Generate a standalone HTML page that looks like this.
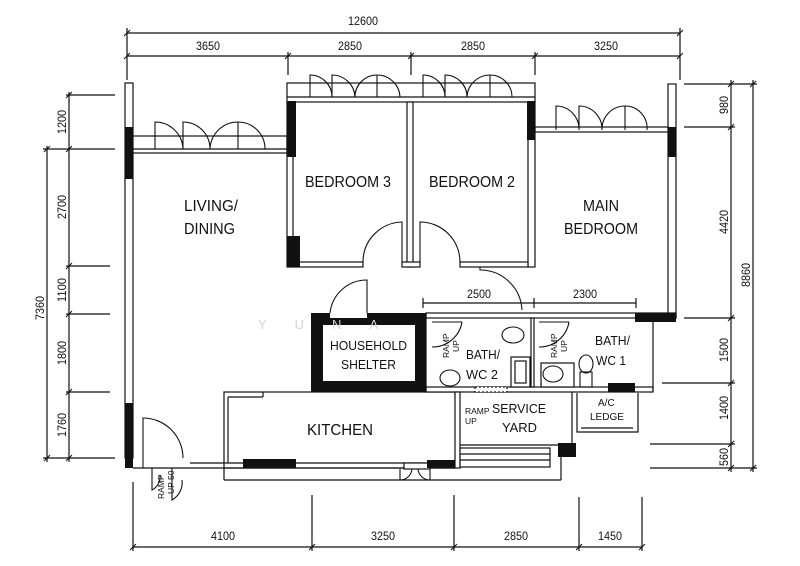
<!DOCTYPE html>
<html><head><meta charset="utf-8"><style>
html,body{margin:0;padding:0;background:#fff;}
svg{display:block;}
text{font-family:"Liberation Sans",sans-serif;fill:#111;}
</style></head><body>
<svg width="800" height="566" viewBox="0 0 800 566" xmlns="http://www.w3.org/2000/svg">
<g stroke="#111" stroke-width="1.2" fill="none">
<line x1="127" y1="33" x2="680" y2="33"/>
<line x1="127" y1="56" x2="680" y2="56"/>
<line x1="127" y1="28" x2="127" y2="80"/>
<line x1="680" y1="28" x2="680" y2="80"/>
<line x1="288" y1="52" x2="288" y2="75"/>
<line x1="411" y1="52" x2="411" y2="75"/>
<line x1="535" y1="52" x2="535" y2="75"/>
<line x1="69" y1="92" x2="69" y2="462"/>
<line x1="47" y1="146" x2="47" y2="462"/>
<line x1="66" y1="95" x2="115" y2="95"/>
<line x1="43" y1="149" x2="115" y2="149"/>
<line x1="66" y1="266" x2="110" y2="266"/>
<line x1="66" y1="314" x2="110" y2="314"/>
<line x1="66" y1="392" x2="110" y2="392"/>
<line x1="43" y1="458" x2="115" y2="458"/>
<line x1="731" y1="80" x2="731" y2="472"/>
<line x1="753" y1="80" x2="753" y2="472"/>
<line x1="684" y1="84" x2="757" y2="84"/>
<line x1="684" y1="127" x2="735" y2="127"/>
<line x1="684" y1="318" x2="735" y2="318"/>
<line x1="662" y1="383" x2="735" y2="383"/>
<line x1="650" y1="444" x2="735" y2="444"/>
<line x1="650" y1="468" x2="757" y2="468"/>
<line x1="133" y1="547" x2="642" y2="547"/>
<line x1="133" y1="482" x2="133" y2="551"/>
<line x1="312" y1="495" x2="312" y2="551"/>
<line x1="454" y1="495" x2="454" y2="551"/>
<line x1="579" y1="497" x2="579" y2="551"/>
<line x1="642" y1="497" x2="642" y2="551"/>
<line x1="423" y1="303" x2="636" y2="303"/>
<line x1="423" y1="298" x2="423" y2="308"/><line x1="534" y1="298" x2="534" y2="308"/><line x1="636" y1="298" x2="636" y2="308"/>
</g>
<g stroke="#111" stroke-width="1">
<path d="M124 36 L130 30 M677 36 L683 30 M124 59 L130 53 M285 59 L291 53 M408 59 L414 53 M532 59 L538 53 M677 59 L683 53"/>
<path d="M66 98 L72 92 M66 152 L72 146 M66 269 L72 263 M66 317 L72 311 M66 395 L72 389 M66 461 L72 455 M44 152 L50 146 M44 461 L50 455"/>
<path d="M728 87 L734 81 M728 130 L734 124 M728 321 L734 315 M728 386 L734 380 M728 447 L734 441 M728 471 L734 465 M750 87 L756 81 M750 471 L756 465"/>
<path d="M130 550 L136 544 M309 550 L315 544 M451 550 L457 544 M576 550 L582 544 M639 550 L645 544"/>
</g>
<g stroke="#111" stroke-width="1.2" fill="#fff">
<rect x="125" y="83" width="8" height="375"/>
<rect x="668" y="84" width="8" height="234"/>
<rect x="287" y="83" width="248" height="19"/>
<line x1="287" y1="97" x2="535" y2="97"/>
<rect x="133" y="136" width="154" height="17"/>
<line x1="133" y1="149" x2="287" y2="149"/>
<rect x="535" y="127" width="133" height="5"/>
<rect x="287" y="102" width="6" height="165"/>
<rect x="407" y="102" width="6" height="165"/>
<rect x="528" y="102" width="7" height="165"/>
<rect x="293" y="262" width="70" height="5"/>
<rect x="402" y="262" width="18" height="5"/>
<rect x="460" y="262" width="68" height="5"/>
<rect x="224" y="392" width="231" height="76"/>
<rect x="228" y="397" width="227" height="62" stroke="none"/>
<line x1="228" y1="397" x2="263" y2="397"/><line x1="263" y1="392" x2="263" y2="397"/><line x1="228" y1="397" x2="228" y2="463"/>
<line x1="190" y1="463" x2="455" y2="463"/>
<line x1="133" y1="468" x2="455" y2="468"/>
<line x1="224" y1="468" x2="224" y2="480"/>
<line x1="224" y1="480" x2="561" y2="480"/>
<line x1="561" y1="455" x2="561" y2="480"/>
<rect x="426" y="313" width="250" height="5"/>
<rect x="426" y="387" width="227" height="5"/>
<line x1="426" y1="313" x2="426" y2="392"/>
<rect x="531" y="318" width="3" height="69"/>
<line x1="653" y1="322" x2="653" y2="392"/>
<rect x="455" y="392" width="5" height="76"/>
<line x1="460" y1="445" x2="572" y2="445"/>
<line x1="572" y1="392" x2="572" y2="445"/>
<path d="M577 393 V432 H638 V393"/>
<line x1="581" y1="428" x2="633" y2="428"/>
<rect x="460" y="448" width="90" height="19"/>
<line x1="460" y1="454" x2="550" y2="454"/><line x1="460" y1="460" x2="550" y2="460"/>
<rect x="511" y="357" width="19" height="30"/>
<rect x="515" y="361" width="11" height="22"/>
<rect x="541" y="363" width="33" height="24"/>
<rect x="404" y="463" width="26" height="6"/>
<rect x="475" y="387" width="32" height="5" stroke-dasharray="2 2"/>
</g>
<g fill="#111">
<rect x="125" y="127" width="8" height="52"/>
<rect x="125" y="403" width="8" height="65"/>
<rect x="287" y="101" width="9" height="56"/>
<rect x="287" y="236" width="13" height="31"/>
<rect x="527" y="101" width="8" height="39"/>
<rect x="668" y="127" width="8" height="30"/>
<path d="M311 313 H330 V318 H367 V313 H426 V392 H311 Z M323 325 V381 H415 V325 Z" fill-rule="evenodd"/>
<rect x="635" y="313" width="41" height="9"/>
<rect x="608" y="383" width="27" height="9"/>
<rect x="243" y="459" width="53" height="9"/>
<rect x="427" y="460" width="28" height="8"/>
<rect x="558" y="443" width="18" height="14"/>
</g>
<g stroke="#111" stroke-width="1.1" fill="none">
<path d="M155 149 V122 A28 28 0 0 1 183 149 M183 149 V122 A27 27 0 0 1 210 149 M238 149 V122 A28 28 0 0 0 210 149 M238 149 V122 A27 27 0 0 1 265 149"/>
<path d="M310 97 V75 A22 22 0 0 1 332 97 M332 97 V75 A23 23 0 0 1 355 97 M377 97 V75 A22 22 0 0 0 355 97 M377 97 V75 A23 23 0 0 1 400 97"/>
<path d="M423 97 V75 A22 22 0 0 1 445 97 M445 97 V75 A22 22 0 0 1 467 97 M490 97 V75 A23 23 0 0 0 467 97 M490 97 V75 A22 22 0 0 1 512 97"/>
<path d="M556 130 V106 A23 23 0 0 1 579 130 M579 130 V106 A23 23 0 0 1 602 130 M625 130 V106 A23 23 0 0 0 602 130 M625 130 V106 A22 22 0 0 1 647 130"/>
<path d="M402 262 V222 A40 40 0 0 0 363 262"/>
<path d="M420 262 V222 A40 40 0 0 1 460 262"/>
<path d="M480 267 V270 A42 42 0 0 1 522 310"/>
<path d="M367 313 V280 A37 37 0 0 0 330 313"/>
<path d="M143 468 V418 A40 40 0 0 1 183 458"/>
<path d="M432 347 A30 30 0 0 0 462 322 M432 322 H462"/>
<path d="M539 347 A30 30 0 0 0 569 322 M539 322 H569"/>
<ellipse cx="513" cy="335" rx="11" ry="8"/>
<ellipse cx="450" cy="378" rx="10" ry="8"/>
<ellipse cx="553" cy="374" rx="10" ry="8"/>
<ellipse cx="586" cy="364" rx="7" ry="9"/>
<rect x="580" y="372" width="12" height="15"/>
<path d="M400 469 V480 A12 12 0 0 0 412 469 M430 469 V480 A12 12 0 0 1 418 469"/>
<path d="M152 468 V490 A15 15 0 0 0 160 475 M172 468 V500 A20 20 0 0 0 182 480"/>
</g>
<g font-size="15.5">
<text x="184" y="211" textLength="54" lengthAdjust="spacingAndGlyphs">LIVING/</text>
<text x="184" y="234" textLength="51" lengthAdjust="spacingAndGlyphs">DINING</text>
<text x="305" y="187" textLength="86" lengthAdjust="spacingAndGlyphs">BEDROOM 3</text>
<text x="429" y="187" textLength="86" lengthAdjust="spacingAndGlyphs">BEDROOM 2</text>
<text x="583" y="211" textLength="36" lengthAdjust="spacingAndGlyphs">MAIN</text>
<text x="564" y="234" textLength="74" lengthAdjust="spacingAndGlyphs">BEDROOM</text>
<text x="307" y="435" textLength="66" lengthAdjust="spacingAndGlyphs">KITCHEN</text>
</g>
<g font-size="13">
<text x="330" y="350" textLength="77" lengthAdjust="spacingAndGlyphs">HOUSEHOLD</text>
<text x="341" y="369" textLength="55" lengthAdjust="spacingAndGlyphs">SHELTER</text>
<text x="466" y="359" textLength="34" lengthAdjust="spacingAndGlyphs">BATH/</text>
<text x="466" y="379" textLength="32" lengthAdjust="spacingAndGlyphs">WC 2</text>
<text x="595" y="345" textLength="35" lengthAdjust="spacingAndGlyphs">BATH/</text>
<text x="596" y="365" textLength="30" lengthAdjust="spacingAndGlyphs">WC 1</text>
<text x="492" y="413" textLength="54" lengthAdjust="spacingAndGlyphs">SERVICE</text>
<text x="502" y="432" textLength="35" lengthAdjust="spacingAndGlyphs">YARD</text>
</g>
<g font-size="10">
<text x="598" y="406">A/C</text>
<text x="590" y="420">LEDGE</text>
<text x="465" y="414" font-size="8.5">RAMP</text>
<text x="465" y="424" font-size="8.5">UP</text>
<text transform="translate(449,358) rotate(-90)" font-size="8.5">RAMP</text>
<text transform="translate(459,352) rotate(-90)" font-size="8.5">UP</text>
<text transform="translate(557,358) rotate(-90)" font-size="8.5">RAMP</text>
<text transform="translate(567,352) rotate(-90)" font-size="8.5">UP</text>
<text transform="translate(164,499) rotate(-90)" font-size="8.5">RAMP</text>
<text transform="translate(174,494) rotate(-90)" font-size="8.5">UP 50</text>
</g>
<g font-size="11.5">
<text x="348" y="25" textLength="30" lengthAdjust="spacingAndGlyphs">12600</text>
<text x="196" y="50" textLength="24" lengthAdjust="spacingAndGlyphs">3650</text>
<text x="338" y="50" textLength="24" lengthAdjust="spacingAndGlyphs">2850</text>
<text x="461" y="50" textLength="24" lengthAdjust="spacingAndGlyphs">2850</text>
<text x="594" y="50" textLength="24" lengthAdjust="spacingAndGlyphs">3250</text>
<text x="467" y="298" textLength="24" lengthAdjust="spacingAndGlyphs">2500</text>
<text x="573" y="298" textLength="24" lengthAdjust="spacingAndGlyphs">2300</text>
<text x="211" y="540" textLength="24" lengthAdjust="spacingAndGlyphs">4100</text>
<text x="371" y="540" textLength="24" lengthAdjust="spacingAndGlyphs">3250</text>
<text x="504" y="540" textLength="24" lengthAdjust="spacingAndGlyphs">2850</text>
<text x="598" y="540" textLength="24" lengthAdjust="spacingAndGlyphs">1450</text>
<text transform="translate(66,134) rotate(-90)" textLength="24" lengthAdjust="spacingAndGlyphs">1200</text>
<text transform="translate(66,219) rotate(-90)" textLength="24" lengthAdjust="spacingAndGlyphs">2700</text>
<text transform="translate(66,302) rotate(-90)" textLength="24" lengthAdjust="spacingAndGlyphs">1100</text>
<text transform="translate(66,365) rotate(-90)" textLength="24" lengthAdjust="spacingAndGlyphs">1800</text>
<text transform="translate(66,437) rotate(-90)" textLength="24" lengthAdjust="spacingAndGlyphs">1760</text>
<text transform="translate(44,320) rotate(-90)" textLength="24" lengthAdjust="spacingAndGlyphs">7360</text>
<text transform="translate(728,114) rotate(-90)" textLength="18" lengthAdjust="spacingAndGlyphs">980</text>
<text transform="translate(728,234) rotate(-90)" textLength="24" lengthAdjust="spacingAndGlyphs">4420</text>
<text transform="translate(750,287) rotate(-90)" textLength="24" lengthAdjust="spacingAndGlyphs">8860</text>
<text transform="translate(728,362) rotate(-90)" textLength="24" lengthAdjust="spacingAndGlyphs">1500</text>
<text transform="translate(728,420) rotate(-90)" textLength="24" lengthAdjust="spacingAndGlyphs">1400</text>
<text transform="translate(728,466) rotate(-90)" textLength="18" lengthAdjust="spacingAndGlyphs">560</text>
</g>
<text x="258" y="329" font-size="13" style="fill:#d4d4d4" letter-spacing="28">YUNA</text>
</svg>
</body></html>
